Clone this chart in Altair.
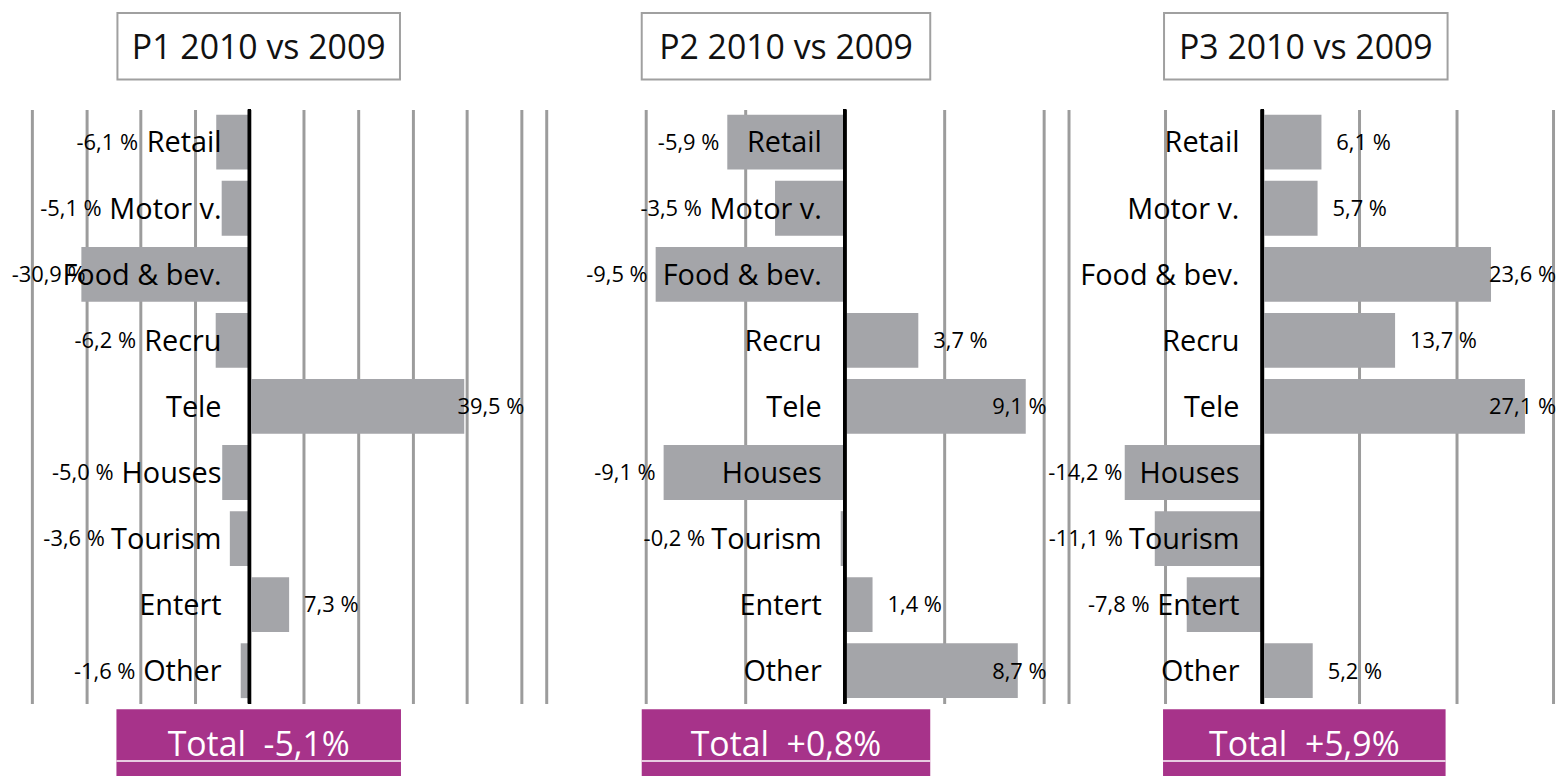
import altair as alt
import pandas as pd

# ---------------- data ----------------
categories = ["Retail", "Motor v.", "Food & bev.", "Recru", "Tele",
              "Houses", "Tourism", "Entert", "Other"]
p1_values = [-6.1, -5.1, -30.9, -6.2, 39.5, -5.0, -3.6, 7.3, -1.6]
p2_values = [-5.9, -3.5, -9.5, 3.7, 9.1, -9.1, -0.2, 1.4, 8.7]
p3_values = [6.1, 5.7, 23.6, 13.7, 27.1, -14.2, -11.1, -7.8, 5.2]
panel_titles = ["P1 2010 vs 2009", "P2 2010 vs 2009", "P3 2010 vs 2009"]
panel_totals = ["Total\u00a0 -5,1%", "Total\u00a0 +0,8%", "Total\u00a0 +5,9%"]
p1_grid = [-40, -30, -20, -10, 0, 10, 20, 30, 40, 50]
p2_grid = [-15, -10, -5, 0, 5, 10]
p3_grid = [-20, -10, 0, 10, 20, 30]

# ---------------- style / layout ----------------
FONT = "Open Sans"
BAR = "#A4A5A9"
GRID = "#9C9C9C"
PURPLE = "#A7338A"
H = 597
CAT_SIZE = 29
VAL_SIZE = 22

panels = [
    dict(values=p1_values, grid=p1_grid, width=492, cat_dx=-28,
         tbox=(86, 370), bbox=(85, 371), left=-24, right=0),
    dict(values=p2_values, grid=p2_grid, width=500, cat_dx=-23,
         tbox=(96, 386), bbox=(96, 386), left=0, right=0),
    dict(values=p3_values, grid=p3_grid, width=487, cat_dx=-23,
         tbox=(96, 381), bbox=(95, 379), left=0, right=6),
]

EM = {"0": .572, "1": .572, "2": .572, "3": .572, "4": .572, "5": .572,
      "6": .572, "7": .572, "8": .572, "9": .572, ",": .25, " ": .26,
      "%": .82, "-": .32, ".": .27, "&": .73, "M": .89, "T": .55, "F": .55,
      "H": .74, "O": .78, "E": .56, "R": .63, "i": .26, "l": .26, "t": .35,
      "r": .41, "m": .86, "s": .48, "v": .5, "u": .61, "o": .6, "e": .56,
      "a": .56, "c": .48, "d": .61, "b": .61, "h": .61, "n": .61}


def text_w(s, size):
    return sum(EM.get(ch, 0.58) for ch in s) * size


def fmt(v):
    return f"{v:.1f}".replace(".", ",") + " %"


def make_panel(i, p):
    grid = p["grid"]
    dmin, dmax = grid[0], grid[-1]
    w = p["width"]
    ppu = w / (dmax - dmin)
    rows = []
    for cat, v in zip(categories, p["values"]):
        lab = fmt(v)
        lw = text_w(lab, VAL_SIZE)
        cw = text_w(cat, CAT_SIZE)
        if v < 0:
            cat_left = -(abs(p["cat_dx"]) + cw) / ppu
            anchor = min(v, cat_left) - 8 / ppu
            min_anchor = dmin + (lw - 20) / ppu
            anchor = max(anchor, min_anchor)
            side = "R"
        else:
            if (v - dmin) * ppu + 15 + lw > w + 3:
                anchor = dmax + 3 / ppu
                side = "R"
            else:
                anchor = v + 15 / ppu
                side = "L"
        rows.append(dict(category=cat, value=v, label=lab, lx=anchor, side=side))
    df = pd.DataFrame(rows)

    scale = alt.Scale(domain=[dmin, dmax], nice=False, zero=False)
    axis = alt.Axis(values=grid, grid=True, gridColor=GRID, gridWidth=3,
                    labels=False, ticks=False, domain=False, title=None)
    yenc = alt.Y("category:N", sort=categories,
                 scale=alt.Scale(paddingInner=0.17, paddingOuter=0.08),
                 axis=None)

    base = alt.Chart(df)
    one = pd.DataFrame({"t": [panel_titles[i]], "tot": [panel_totals[i]]})
    deco = alt.Chart(one)

    bounds = deco.mark_rect(opacity=0).encode(
        x=alt.value(p["left"]), x2=alt.value(w + p["right"]),
        y=alt.value(-100), y2=alt.value(670))

    bars = base.mark_bar(color=BAR).encode(
        x=alt.X("value:Q", scale=scale, axis=axis),
        x2=alt.datum(0),
        y=yenc)

    zero = base.mark_rule(color="black", strokeWidth=3).encode(
        x=alt.datum(0))

    cats = base.mark_text(align="right", baseline="alphabetic", font=FONT,
                          fontSize=CAT_SIZE, color="black",
                          dx=p["cat_dx"], dy=0.357 * CAT_SIZE).encode(
        x=alt.datum(0), y=yenc, text="category:N")

    vals_r = base.transform_filter(alt.datum.side == "R").mark_text(
        align="right", baseline="alphabetic", font=FONT, fontSize=VAL_SIZE,
        color="black", dy=0.357 * VAL_SIZE).encode(
        x=alt.X("lx:Q", scale=scale, axis=axis), y=yenc, text="label:N")

    vals_l = base.transform_filter(alt.datum.side == "L").mark_text(
        align="left", baseline="alphabetic", font=FONT, fontSize=VAL_SIZE,
        color="black", dy=0.357 * VAL_SIZE).encode(
        x=alt.X("lx:Q", scale=scale, axis=axis), y=yenc, text="label:N")

    tx0, tx1 = p["tbox"]
    bx0, bx1 = p["bbox"]
    tbox = deco.mark_rect(fill="white", stroke="#A0A0A0", strokeWidth=2).encode(
        x=alt.value(tx0), x2=alt.value(tx1), y=alt.value(-97), y2=alt.value(-30))
    ttext = deco.mark_text(font=FONT, fontSize=34, color="#111111",
                           baseline="alphabetic", align="center").encode(
        x=alt.value((tx0 + tx1) / 2), y=alt.value(-51), text="t:N")

    bbox = deco.mark_rect(fill=PURPLE).encode(
        x=alt.value(bx0), x2=alt.value(bx1), y=alt.value(603), y2=alt.value(670))
    bline = deco.mark_rule(color="white", strokeWidth=1.5).encode(
        x=alt.value(bx0), x2=alt.value(bx1), y=alt.value(655))
    btext = deco.mark_text(font=FONT, fontSize=34, color="white",
                           baseline="alphabetic", align="center").encode(
        x=alt.value((bx0 + bx1) / 2), y=alt.value(650), text="tot:N")

    return alt.layer(bounds, bars, zero, cats, vals_r, vals_l,
                     tbox, ttext, bbox, bline, btext).properties(
        width=w, height=H)


charts = [make_panel(i, p) for i, p in enumerate(panels)]

chart = alt.hconcat(*charts, spacing=25, bounds="flush").properties(
    padding=0,
    autosize=alt.AutoSizeParams(type="pad"),
).configure_view(strokeWidth=0)

chart.save("out.html", embed_options={"renderer": "svg", "actions": False})
